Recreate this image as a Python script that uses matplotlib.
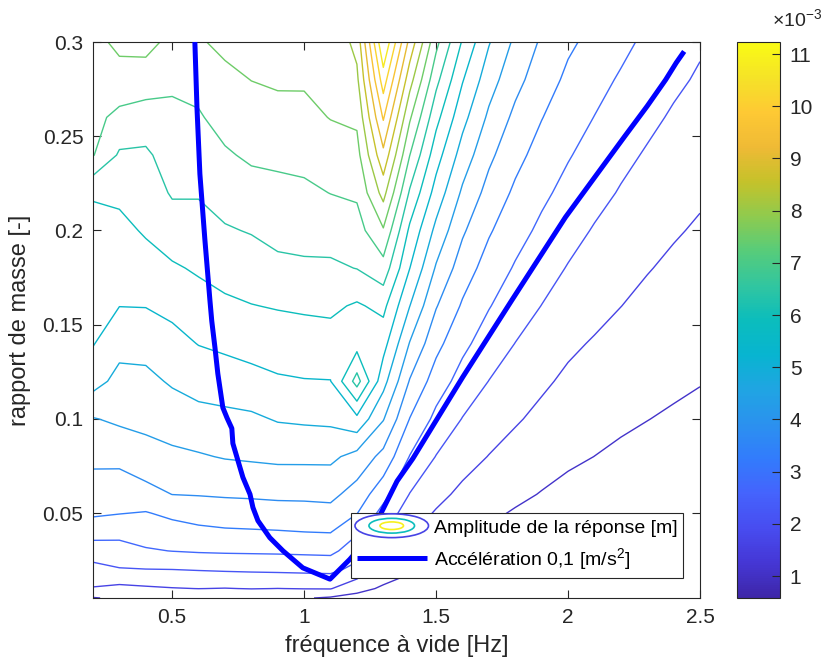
import numpy as np
import matplotlib
matplotlib.use("Agg")
import matplotlib.pyplot as plt
from matplotlib.colors import LinearSegmentedColormap, Normalize
from matplotlib.cm import ScalarMappable
from matplotlib.legend_handler import HandlerBase
from matplotlib.patches import Ellipse

plt.rcParams['font.family'] = ['Liberation Sans', 'DejaVu Sans']
plt.rcParams['mathtext.default'] = 'regular'

# grille : fréquence à vide [Hz] x rapport de masse [-]
FREQ = [0.2, 0.3, 0.4, 0.5, 0.6, 0.7, 0.8, 0.9, 1.0, 1.1, 1.2, 1.3,
        1.4, 1.5, 1.6, 1.7, 1.8, 1.9, 2.0, 2.1, 2.2, 2.3, 2.4, 2.5]
MASS_RATIO = [0.005, 0.01, 0.02, 0.03, 0.04, 0.05, 0.06, 0.08, 0.10, 0.12,
              0.14, 0.16, 0.18, 0.20, 0.22, 0.24, 0.26, 0.28, 0.30]

# amplitude de la réponse [1e-3 m], une ligne par rapport de masse
AMP = [
    [1.08, 1.20, 1.22, 1.20, 1.22, 1.20, 1.20, 1.18, 1.15, 1.05, 0.95, 0.85, 0.78, 0.72, 0.68, 0.65, 0.63, 0.62, 0.61, 0.60, 0.59, 0.59, 0.58, 0.58],
    [1.61, 1.51, 1.57, 1.62, 1.65, 1.63, 1.66, 1.64, 1.66, 1.67, 1.27, 1.04, 0.92, 0.82, 0.76, 0.71, 0.68, 0.66, 0.64, 0.63, 0.62, 0.61, 0.60, 0.59],
    [2.01, 2.14, 2.16, 2.17, 2.20, 2.23, 2.25, 2.27, 2.29, 2.31, 2.01, 1.40, 1.17, 1.00, 0.90, 0.81, 0.76, 0.73, 0.70, 0.68, 0.66, 0.65, 0.64, 0.63],
    [2.43, 2.50, 2.66, 2.72, 2.76, 2.78, 2.79, 2.80, 2.82, 2.84, 2.42, 1.76, 1.41, 1.19, 1.04, 0.92, 0.85, 0.80, 0.76, 0.73, 0.71, 0.69, 0.68, 0.67],
    [2.93, 2.87, 2.94, 3.02, 3.11, 3.17, 3.19, 3.21, 3.24, 3.26, 2.77, 2.14, 1.66, 1.39, 1.20, 1.06, 0.95, 0.88, 0.83, 0.79, 0.76, 0.74, 0.72, 0.71],
    [3.32, 3.26, 3.21, 3.36, 3.47, 3.51, 3.53, 3.56, 3.57, 3.61, 3.26, 2.52, 1.90, 1.60, 1.36, 1.20, 1.07, 0.98, 0.91, 0.86, 0.82, 0.79, 0.77, 0.75],
    [3.52, 3.47, 3.60, 3.78, 3.80, 3.83, 3.85, 3.88, 3.89, 3.91, 3.56, 2.90, 2.16, 1.79, 1.53, 1.34, 1.21, 1.09, 0.99, 0.93, 0.89, 0.85, 0.82, 0.80],
    [3.90, 3.92, 4.11, 4.20, 4.26, 4.34, 4.38, 4.42, 4.42, 4.42, 4.13, 3.62, 2.69, 2.16, 1.85, 1.63, 1.45, 1.31, 1.19, 1.11, 1.03, 0.98, 0.93, 0.90],
    [4.28, 4.40, 4.45, 4.56, 4.67, 4.71, 4.75, 4.88, 4.92, 4.95, 5.24, 4.34, 3.23, 2.57, 2.16, 1.90, 1.70, 1.52, 1.37, 1.27, 1.19, 1.12, 1.06, 1.01],
    [5.05, 4.67, 4.71, 4.90, 5.04, 5.11, 5.20, 5.31, 5.35, 5.36, 6.65, 5.03, 3.74, 2.99, 2.50, 2.17, 1.93, 1.73, 1.55, 1.44, 1.34, 1.26, 1.19, 1.13],
    [5.40, 5.02, 5.02, 5.20, 5.39, 5.48, 5.57, 5.63, 5.66, 5.69, 5.70, 5.57, 4.28, 3.40, 2.84, 2.45, 2.17, 1.95, 1.74, 1.60, 1.49, 1.40, 1.31, 1.24],
    [5.53, 5.38, 5.39, 5.51, 5.69, 5.81, 5.89, 5.94, 5.98, 6.01, 5.84, 6.05, 4.85, 3.81, 3.18, 2.74, 2.41, 2.17, 1.95, 1.80, 1.65, 1.53, 1.44, 1.36],
    [5.64, 5.57, 5.70, 5.84, 5.97, 6.10, 6.18, 6.31, 6.35, 6.35, 6.45, 6.76, 5.38, 4.25, 3.51, 3.02, 2.66, 2.38, 2.15, 1.96, 1.81, 1.67, 1.56, 1.47],
    [5.72, 5.77, 5.96, 6.18, 6.23, 6.39, 6.47, 6.60, 6.63, 6.66, 6.75, 7.45, 5.80, 4.70, 3.85, 3.30, 2.91, 2.60, 2.35, 2.14, 1.97, 1.82, 1.69, 1.59],
    [5.96, 6.01, 6.16, 6.49, 6.48, 6.65, 6.77, 6.83, 6.87, 6.98, 7.05, 8.22, 6.37, 5.16, 4.22, 3.59, 3.15, 2.82, 2.55, 2.33, 2.14, 1.98, 1.83, 1.71],
    [7.00, 6.37, 6.35, 6.68, 6.70, 6.91, 7.05, 7.08, 7.12, 7.25, 7.32, 8.96, 6.98, 5.60, 4.61, 3.89, 3.40, 3.04, 2.75, 2.51, 2.30, 2.13, 1.98, 1.85],
    [7.12, 6.83, 6.73, 6.87, 6.92, 7.15, 7.28, 7.34, 7.37, 7.52, 7.60, 9.69, 7.58, 6.07, 5.01, 4.21, 3.65, 3.26, 2.95, 2.70, 2.48, 2.29, 2.12, 1.98],
    [7.24, 7.31, 7.24, 7.05, 7.13, 7.38, 7.51, 7.57, 7.56, 7.57, 7.92, 10.44, 8.25, 6.59, 5.41, 4.54, 3.94, 3.49, 3.14, 2.89, 2.65, 2.44, 2.27, 2.12],
    [7.35, 7.62, 7.68, 7.35, 7.45, 7.62, 7.72, 7.75, 7.72, 7.60, 8.20, 11.23, 8.94, 7.12, 5.85, 4.88, 4.20, 3.70, 3.33, 3.10, 2.85, 2.60, 2.42, 2.24],
]

# courbe d'accélération 0,1 m/s2
ACC_FREQ = [0.586, 0.594, 0.605, 0.624, 0.643, 0.650, 0.662, 0.673, 0.692, 0.708, 0.726,
            0.730, 0.749, 0.768, 0.795, 0.806, 0.825, 0.870, 0.920, 0.995, 1.098, 1.173,
            1.238, 1.295, 1.352, 1.412, 1.600, 1.787, 1.990, 2.105, 2.215, 2.300, 2.370,
            2.410, 2.440]
ACC_MU = [0.300, 0.265, 0.230, 0.195, 0.163, 0.152, 0.138, 0.124, 0.106, 0.1005, 0.095,
          0.087, 0.078, 0.069, 0.060, 0.053, 0.046, 0.037, 0.030, 0.021, 0.015, 0.0255,
          0.036, 0.051, 0.067, 0.079, 0.122, 0.163, 0.207, 0.229, 0.250, 0.266, 0.280,
          0.289, 0.295]

# palette parula
PARULA = [
    (0.2422, 0.1504, 0.6603), (0.2706, 0.2147, 0.8364), (0.2813, 0.3006, 0.9414),
    (0.2699, 0.3892, 0.9906), (0.1963, 0.4847, 0.9892), (0.1687, 0.5703, 0.9359),
    (0.1248, 0.6459, 0.8883), (0.0297, 0.7082, 0.8163), (0.0433, 0.7411, 0.7394),
    (0.1938, 0.7758, 0.6251), (0.3406, 0.8008, 0.4789), (0.5616, 0.7942, 0.3045),
    (0.7738, 0.7598, 0.1646), (0.9393, 0.7288, 0.2100), (0.9952, 0.7893, 0.2028),
    (0.9610, 0.8890, 0.1537), (0.9769, 0.9839, 0.0805),
]
parula = LinearSegmentedColormap.from_list('parula', PARULA, N=256)

Z = np.array(AMP) * 1e-3
zmin, zmax = Z.min(), Z.max()
levels = np.linspace(zmin, zmax, 21)[1:-1]
norm = Normalize(zmin, zmax)

dark = '#262626'
fig = plt.figure(figsize=(8.32, 6.63), dpi=100)
ax = fig.add_axes([93 / 832, 65 / 663, 607 / 832, 556 / 663])
cax = fig.add_axes([737 / 832, 65 / 663, 43 / 832, 556 / 663])

ax.contour(FREQ, MASS_RATIO, Z, levels=levels, cmap=parula, norm=norm, linewidths=1.0)
acc, = ax.plot(ACC_FREQ, ACC_MU, color=(0, 0, 1), lw=3.6, solid_capstyle='butt', zorder=5)

ax.set_xlim(0.2, 2.5)
ax.set_ylim(0.005, 0.3)
ax.set_xticks([0.5, 1, 1.5, 2, 2.5])
ax.set_xticklabels(['0.5', '1', '1.5', '2', '2.5'])
ax.set_yticks([0.05, 0.1, 0.15, 0.2, 0.25, 0.3])
ax.set_yticklabels(['0.05', '0.1', '0.15', '0.2', '0.25', '0.3'])
ax.tick_params(direction='in', top=True, right=True, length=6, width=0.8,
               labelsize=15, colors=dark, pad=7)
for s in ax.spines.values():
    s.set_color(dark)
    s.set_linewidth(0.8)
ax.set_xlabel('fréquence à vide [Hz]', fontsize=17, color=dark, labelpad=6)
ax.set_ylabel('rapport de masse [-]', fontsize=17, color=dark, labelpad=8)


# icône de légende : trois ellipses emboîtées
class ContourIcon(HandlerBase):
    def create_artists(self, legend, orig_handle, xdescent, ydescent,
                       width, height, fontsize, trans):
        cx = width / 2 - xdescent
        cy = height / 2 - ydescent
        out = []
        for k, c in zip((1.0, 0.62, 0.32), (0.1, 0.5, 0.97)):
            e = Ellipse((cx, cy), width * 1.05 * k, height * 1.75 * k, fill=False,
                        edgecolor=parula(c), lw=1.2, transform=trans)
            out.append(e)
        return out


amp_proxy = Ellipse((0, 0), 1, 1)
leg = ax.legend([amp_proxy, acc],
                ['Amplitude de la réponse [m]', 'Accélération 0,1 [m/s$^2$]'],
                handler_map={amp_proxy: ContourIcon()},
                loc='lower right', bbox_to_anchor=(0.972, 0.036), borderaxespad=0,
                fontsize=14, handlelength=3.6, handletextpad=0.35, labelspacing=0.5,
                fancybox=False, framealpha=1, edgecolor=dark, borderpad=0.3)
leg.get_frame().set_linewidth(0.8)
leg.set_zorder(10)

# barre de couleur continue
sm = ScalarMappable(norm=norm, cmap=parula)
cb = fig.colorbar(sm, cax=cax)
cb.set_ticks(np.arange(1, 12) * 1e-3)
cb.set_ticklabels([str(i) for i in range(1, 12)])
cb.ax.tick_params(direction='in', length=6, width=0.8, labelsize=15, colors=dark, pad=7)
cb.outline.set_edgecolor(dark)
cb.outline.set_linewidth(0.8)
fig.text(772 / 832, 1 - 26 / 663, '×10$^{-3}$', fontsize=14, color=dark,
         ha='left', va='baseline')

fig.savefig('out.png', dpi=100)
